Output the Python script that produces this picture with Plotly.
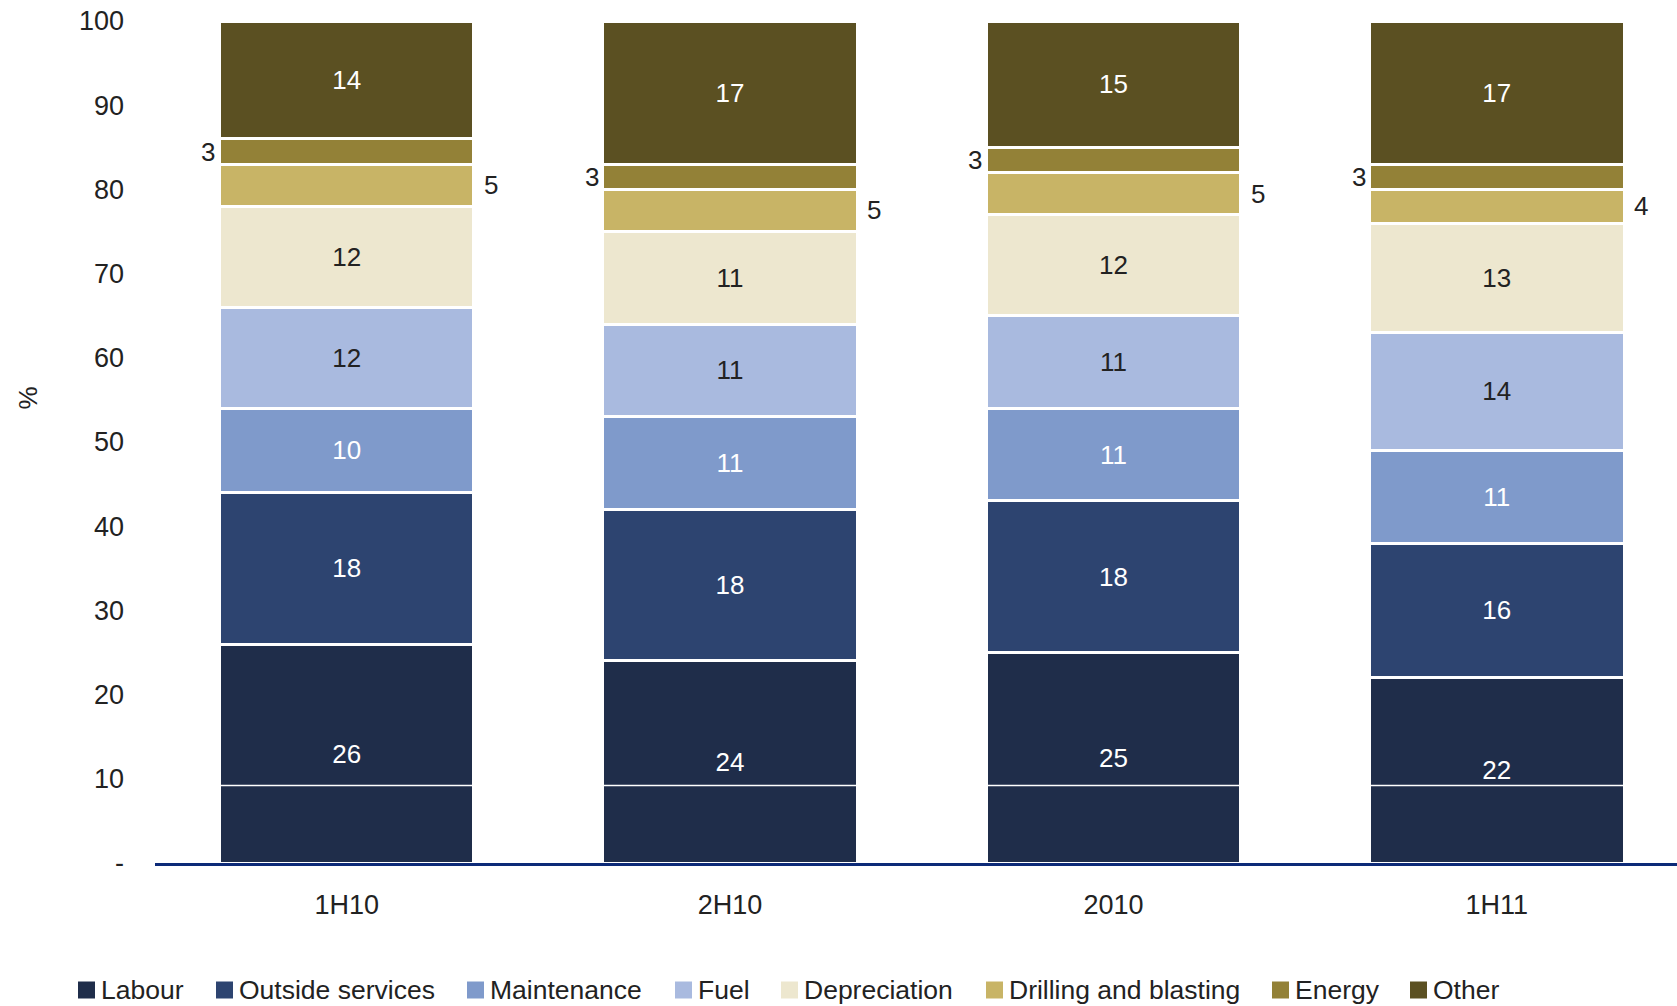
import plotly.graph_objects as go

# Cost breakdown by period, % of total cash cost
periods = ["1H10", "2H10", "2010", "1H11"]

labour = [26, 24, 25, 22]
outside_services = [18, 18, 18, 16]
maintenance = [10, 11, 11, 11]
fuel = [12, 11, 11, 14]
depreciation = [12, 11, 12, 13]
drilling_blasting = [5, 5, 5, 4]
energy = [3, 3, 3, 3]
other = [14, 17, 15, 17]

series = [
    ("Labour", labour, "#1F2D4A", "white", True),
    ("Outside services", outside_services, "#2D4470", "white", True),
    ("Maintenance", maintenance, "#7F9ACB", "white", True),
    ("Fuel", fuel, "#A9BADF", "#222222", True),
    ("Depreciation", depreciation, "#EDE7CF", "#222222", True),
    ("Drilling and blasting", drilling_blasting, "#C8B466", "#222222", False),
    ("Energy", energy, "#938137", "#222222", False),
    ("Other", other, "#5B5022", "white", True),
]

FONT = "Liberation Sans, Arial, sans-serif"
TEXT = "#222222"
BARGAP = 0.336
half_bar = (1 - BARGAP) / 2

# Page geometry (px) used to place the legend row below the plot
W, H = 1677, 1006
M_L, M_R, M_T, M_B = 155, 0, 21, 143
PLOT_W = W - M_L - M_R
PLOT_H = H - M_T - M_B


def px_to_paper_x(px):
    return (px - M_L) / PLOT_W


def px_to_paper_y(py):
    return (H - M_B - py) / PLOT_H


fig = go.Figure()
for name, vals, color, tcolor, inside in series:
    fig.add_trace(go.Bar(
        name=name,
        x=periods,
        y=vals,
        marker=dict(color=color, line=dict(color="white", width=3)),
        text=[str(v) for v in vals] if inside else None,
        textposition="inside" if inside else "none",
        insidetextanchor="middle",
        textfont=dict(family=FONT, size=26, color=tcolor),
        constraintext="none",
        hoverinfo="skip",
        showlegend=False,
    ))

# Small segments are labelled beside the bar: energy on the left, drilling on the right
annotations = []
for i in range(len(periods)):
    base_drill = labour[i] + outside_services[i] + maintenance[i] + fuel[i] + depreciation[i]
    mid_drill = base_drill + drilling_blasting[i] / 2
    mid_energy = base_drill + drilling_blasting[i] + energy[i] / 2
    annotations.append(dict(
        x=i - half_bar, y=mid_energy, xref="x", yref="y",
        text=str(energy[i]), showarrow=False, xanchor="right", xshift=-2,
        font=dict(family=FONT, size=26, color=TEXT),
    ))
    annotations.append(dict(
        x=i + half_bar, y=mid_drill, xref="x", yref="y",
        text=str(drilling_blasting[i]), showarrow=False, xanchor="left", xshift=8,
        font=dict(family=FONT, size=26, color=TEXT),
    ))

annotations.append(dict(
    x=-0.0945, y=0.552, xref="paper", yref="paper", text="%", textangle=-90,
    showarrow=False, font=dict(family=FONT, size=26, color=TEXT),
))

# Legend row: square swatch followed by the series name
legend_left_px = [78, 216, 467, 675, 781, 986, 1272, 1410]
SW = 17
LEG_Y = 990
shapes = []
for (name, vals, color, tcolor, inside), lx in zip(series, legend_left_px):
    shapes.append(dict(
        type="rect", xref="paper", yref="paper",
        x0=px_to_paper_x(lx), x1=px_to_paper_x(lx + SW),
        y0=px_to_paper_y(LEG_Y + SW / 2), y1=px_to_paper_y(LEG_Y - SW / 2),
        fillcolor=color, line=dict(width=0), layer="above",
    ))
    annotations.append(dict(
        x=px_to_paper_x(lx + SW + 4), y=px_to_paper_y(LEG_Y),
        xref="paper", yref="paper", xanchor="left", yanchor="middle",
        text=name, showarrow=False,
        font=dict(family=FONT, size=26.5, color=TEXT),
    ))

# Thin white rule across the lowest band of the bars
shapes.append(dict(
    type="line", xref="paper", yref="y", x0=0, x1=1, y0=9.2, y1=9.2,
    line=dict(color="white", width=1.5), layer="above",
))

fig.update_layout(
    barmode="stack",
    bargap=BARGAP,
    width=W,
    height=H,
    margin=dict(l=M_L, r=M_R, t=M_T, b=M_B),
    paper_bgcolor="white",
    plot_bgcolor="white",
    font=dict(family=FONT, size=27, color=TEXT),
    showlegend=False,
    annotations=annotations,
    shapes=shapes,
    xaxis=dict(
        range=[-0.5, 3.47],
        showline=True, linecolor="#0C2A78", linewidth=3,
        showgrid=False, ticks="", ticklabelstandoff=16,
        tickfont=dict(family=FONT, size=27, color=TEXT),
    ),
    yaxis=dict(
        range=[0, 100],
        tickvals=list(range(0, 101, 10)),
        ticktext=["-"] + [str(v) for v in range(10, 101, 10)],
        showgrid=False, zeroline=False, showline=False, ticks="",
        ticklabelstandoff=30,
        tickfont=dict(family=FONT, size=27, color=TEXT),
    ),
)

fig.write_html("out.html")
